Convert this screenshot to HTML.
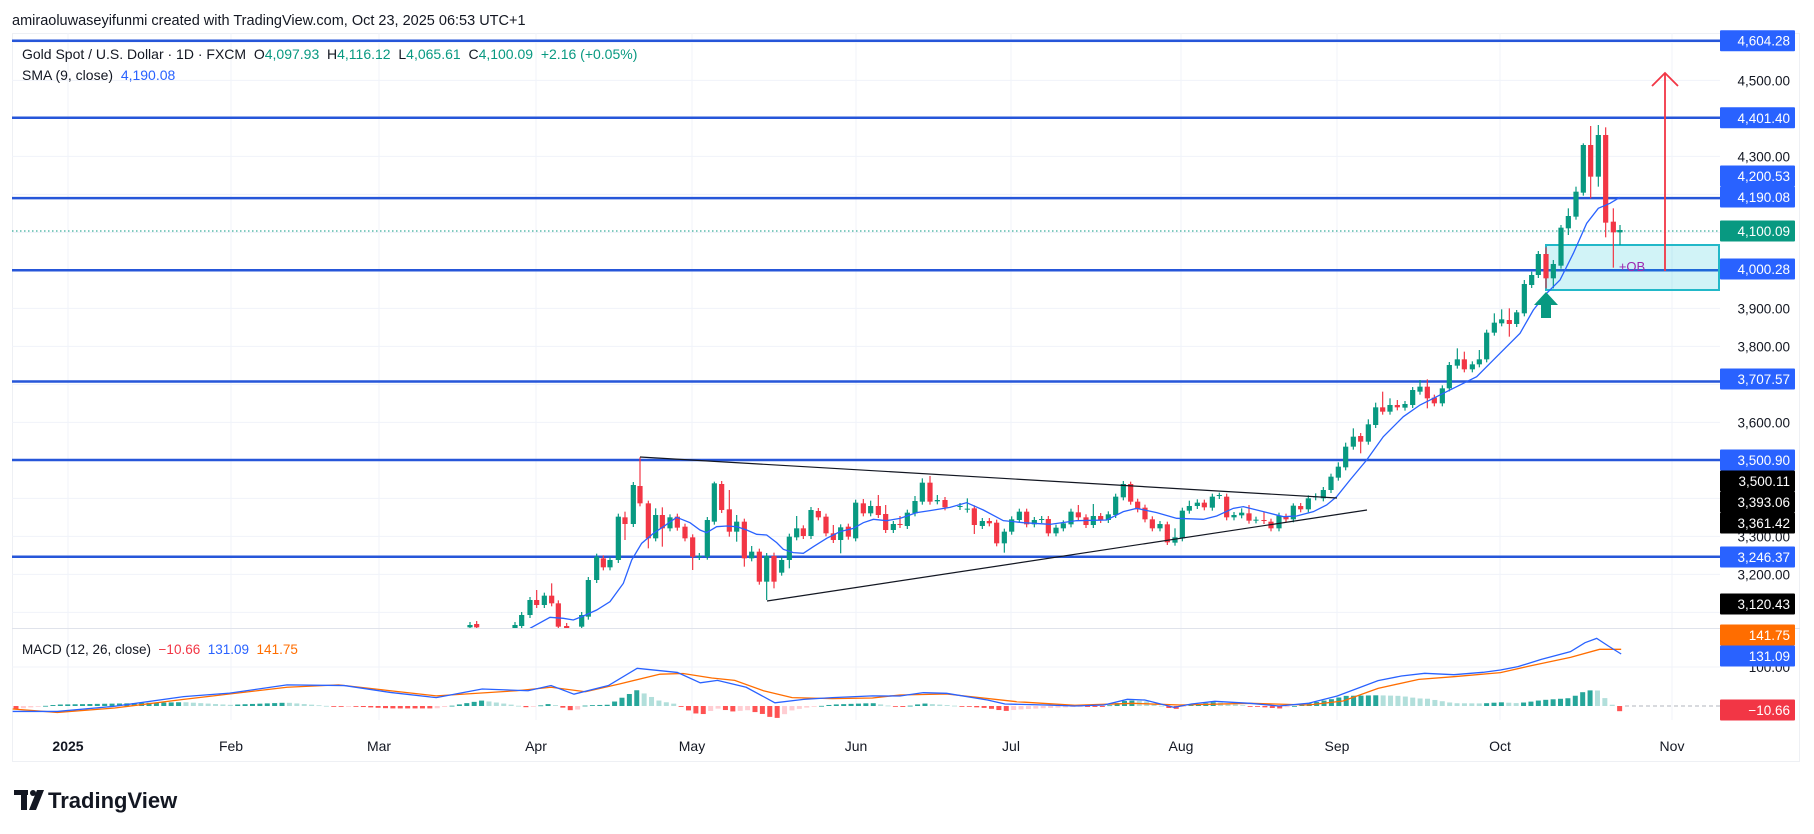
<!DOCTYPE html>
<html><head><meta charset="utf-8"><style>
html,body{margin:0;padding:0;background:#fff;}
svg{display:block;font-family:"Liberation Sans",sans-serif;}
</style></head><body>
<svg id="s" width="1814" height="834" viewBox="0 0 1814 834" xmlns="http://www.w3.org/2000/svg">
<defs>
<clipPath id="mp"><rect x="12" y="33" width="1708" height="595"/></clipPath>
<clipPath id="mc"><rect x="12" y="629" width="1708" height="92"/></clipPath>
</defs>
<rect width="1814" height="834" fill="#fff"/>
<text x="12" y="25" font-size="14.5" fill="#131722">amiraoluwaseyifunmi created with TradingView.com, Oct 23, 2025 06:53 UTC+1</text>
<rect x="12.5" y="33.5" width="1787" height="728" fill="none" stroke="#eef0f4"/>
<g id="grid"></g>
<g id="main" clip-path="url(#mp)"></g>
<g id="macd" clip-path="url(#mc)"></g>
<line x1="12" y1="628.5" x2="1800" y2="628.5" stroke="#e0e3eb"/>
<g id="ax"></g>
<text x="22" y="59" font-size="14" fill="#131722">Gold Spot / U.S. Dollar · 1D · FXCM &#160;O<tspan fill="#089981">4,097.93</tspan> &#160;H<tspan fill="#089981">4,116.12</tspan> &#160;L<tspan fill="#089981">4,065.61</tspan> &#160;C<tspan fill="#089981">4,100.09</tspan> &#160;<tspan fill="#089981">+2.16 (+0.05%)</tspan></text>
<text x="22" y="80" font-size="14" fill="#131722">SMA (9, close) &#160;<tspan fill="#2962ff">4,190.08</tspan></text>
<text x="22" y="654" font-size="13.5" fill="#131722">MACD (12, 26, close) &#160;<tspan fill="#f23645">−10.66</tspan> &#160;<tspan fill="#2962ff">131.09</tspan> &#160;<tspan fill="#ff6d00">141.75</tspan></text>
<g transform="translate(14,790)">
<rect x="0" y="0" width="14" height="5" fill="#131722"/><rect x="7" y="0" width="6" height="20" fill="#131722"/>
<circle cx="19" cy="3" r="3" fill="#131722"/><polygon points="23,0 30,0 22,20 15,20" fill="#131722"/>
<text x="34" y="18" font-size="22" font-weight="bold" fill="#131722">TradingView</text>
</g>
</svg>
<script>
const NS="http://www.w3.org/2000/svg";
function el(p,t,a,txt){const e=document.createElementNS(NS,t);for(const k in a)e.setAttribute(k,a[k]);if(txt!==undefined)e.textContent=txt;p.appendChild(e);return e;}
const G=document.getElementById('grid'),M=document.getElementById('main'),C=document.getElementById('macd'),A=document.getElementById('ax');
const py=p=>40.7+(4604.28-p)*0.38;
// grid
for(let p=3100;p<=4600;p+=100){el(G,'line',{x1:12,x2:1720,y1:py(p),y2:py(p),stroke:'#f0f3fa'});}
const months=[[68,'2025',1],[231,'Feb'],[379,'Mar'],[536,'Apr'],[692,'May'],[856,'Jun'],[1011,'Jul'],[1181,'Aug'],[1337,'Sep'],[1500,'Oct'],[1672,'Nov']];
months.forEach(m=>{el(G,'line',{x1:m[0],x2:m[0],y1:33,y2:720,stroke:'#f0f3fa'});el(A,'text',{x:m[0],y:751,'font-size':14,'text-anchor':'middle',fill:'#131722','font-weight':m[2]?'bold':'normal'},m[1]);});
el(G,'line',{x1:12,x2:1720,y1:667,y2:667,stroke:'#f0f3fa'});
// horizontal levels
[4604.28,4401.40,4190.08,4000.28,3707.57,3500.90,3246.37].forEach(p=>el(M,'line',{x1:12,x2:1720,y1:py(p),y2:py(p),stroke:'#2656d9','stroke-width':2.5}));
// dotted current
el(M,'line',{x1:12,x2:1720,y1:231,y2:231,stroke:'#089981','stroke-dasharray':'1.5 2.5'});
// OB box
el(M,'rect',{x:1546,y:245,width:173,height:45,fill:'rgba(0,188,212,0.18)',stroke:'#22b8c8','stroke-width':2});
el(M,'text',{x:1632,y:271,'font-size':13,fill:'#9c27b0','text-anchor':'middle'},'+OB');
// candles
const g='#089981',r='#f23645';
const Z=[];
function add(list,ox,oy,sx,sy){list.forEach(c=>Z.push({x:ox+c[0]/sx,t:oy+c[1]/sy,b:oy+c[2]/sy,c:c[3],h:c[4]!=null?oy+c[4]/sy:null,l:c[5]!=null?oy+c[5]/sy:null}));}
add([[60,585,592,'g'],[80,582,592,'r'],[195,585,600,'g'],[215,555,588,'g'],[240,510,555,'g'],[260,510,525,'r',480],[283,497,525,'g'],[305,497,520,'r',460],[325,520,590,'r'],[350,588,598,'r'],[395,555,590,'g'],[415,450,560,'g'],[440,380,450,'g'],[460,385,412,'r'],[480,390,412,'g'],[505,260,390,'g'],[525,262,282,'r',245,330],[550,165,282,'g'],[570,168,220,'r',82],[595,220,325,'r',212,355],[617,255,325,'g',235],[637,255,295,'r',232,350],[660,262,295,'g'],[682,260,293,'r'],[705,290,325,'r'],[728,322,380,'r',null,420],[748,378,381,'g'],[772,270,380,'g'],[793,160,275,'g',155],[815,162,240,'r'],[838,238,305,'r',180,320],[860,275,305,'g',255,335],[883,275,385,'r',null,410],[905,365,385,'g',348],[928,365,455,'r'],[950,378,455,'g',null,510],[972,378,455,'r',368,475],[995,390,428,'g'],[1018,320,390,'g',null,415],[1040,295,322,'g',258],[1060,295,318,'r'],[1083,240,318,'g'],[1105,243,262,'r'],[1128,260,310,'r'],[1150,310,330,'r',285],[1172,292,330,'g',null,370],[1195,290,320,'r'],[1217,218,325,'g'],[1240,220,250,'r',207],[1262,228,250,'g',212],[1285,228,255,'r',195],[1307,252,300,'r',225],[1330,282,300,'g'],[1350,282,285,'r',258],[1372,248,288,'g'],[1395,213,250,'g',198],[1417,158,215,'g',145],[1440,158,215,'r',138],[1462,210,214,'g',195],[1485,210,232,'r']],450,430,3,3);
add([[30,528,531,'g'],[52,536,539,'g',505],[73,535,585,'r',null,612],[97,573,588,'g'],[118,573,580,'r'],[140,578,640,'r'],[163,605,640,'g',null,668],[185,568,605,'g'],[208,545,570,'g'],[230,545,583,'r'],[253,570,583,'g'],[275,567,570,'g'],[295,567,610,'r'],[318,593,610,'g'],[340,580,595,'g'],[363,545,583,'g'],[385,547,562,'r',525],[408,562,585,'r'],[430,558,585,'g',522],[452,558,570,'r'],[475,553,570,'g'],[497,500,555,'g'],[520,462,502,'g'],[542,462,515,'r',455],[563,515,538,'r'],[585,533,568,'r'],[607,568,595,'r'],[630,582,595,'g'],[652,583,637,'r',575,645],[675,622,638,'g',595],[697,542,625,'g'],[718,528,542,'g',512],[742,518,528,'g',508],[763,518,532,'r'],[787,500,533,'g'],[808,495,498,'g',488],[830,500,562,'r'],[852,555,562,'g'],[875,548,556,'g',535],[897,550,572,'r',525],[918,569,571,'g'],[942,570,573,'r',545],[963,575,595,'r'],[987,557,595,'g'],[1008,560,568,'r'],[1030,527,568,'g',520],[1052,528,538,'r'],[1075,505,538,'g'],[1097,499,502,'g'],[1120,480,505,'g'],[1143,440,480,'g'],[1165,410,443,'g',397],[1187,350,412,'g',338],[1210,320,350,'g',295],[1232,318,335,'r',null,370],[1255,283,335,'g',268],[1277,232,285,'g',218],[1298,232,245,'r',185],[1320,225,245,'g',205],[1342,225,232,'r',210],[1365,222,233,'g']],950,330,3,3);
add([[38,1170,1215,'g'],[60,1160,1175,'g',1140],[82,1160,1195,'r',1138,1225],[103,1193,1210,'r'],[127,1165,1210,'g'],[148,1095,1165,'g'],[172,1078,1097,'g',1045],[193,1078,1108,'r',1055],[217,1093,1108,'g'],[238,1078,1093,'g',1050],[260,998,1078,'g'],[283,968,998,'g',940],[305,958,970,'g',928],[328,960,972,'r',925,1010],[350,937,972,'g',930],[373,852,940,'g',840],[395,825,855,'g',815],[415,762,825,'g'],[438,762,835,'r',742,865],[460,792,835,'g',780,865],[483,683,797,'g',675],[505,648,685,'g',625,705],[528,575,650,'g',560],[550,435,578,'g',430],[572,435,530,'r',378,595],[595,405,530,'g',375,560],[617,405,668,'r',382,712],[640,665,697,'r',625,803],[660,690,697,'g',675,735]],1400,0,3,3);
Z.forEach(c=>{const col=c.c=='g'?g:r;const h=c.h!=null?c.h:c.t-3,l=c.l!=null?c.l:c.b+3;
el(M,'line',{x1:c.x,x2:c.x,y1:h,y2:l,stroke:col,'stroke-width':1.2});
el(M,'rect',{x:c.x-2.6,y:c.t,width:5.2,height:Math.max(1,c.b-c.t),fill:col});});
// SMA
const sp=[];
function pts(list,ox,oy,sx,sy){list.forEach(p=>sp.push([ox+p[0]/sx,oy+p[1]/sy]));}
pts([[240,595],[300,562],[340,565],[370,570],[400,558],[440,540],[480,515],[520,460],[545,390],[575,340],[610,310],[640,290],[680,262],[720,278],[750,300],[770,308],[800,290],[830,288],[860,290],[890,300],[920,313],[950,315],[980,338],[1000,358],[1030,368],[1060,370],[1090,350],[1130,325],[1170,305],[1210,295],[1240,278],[1270,268],[1310,272],[1350,265],[1400,248],[1440,242],[1500,232]],450,430,3,3);
pts([[50,518],[100,540],[160,572],[220,578],[300,583],[380,572],[470,570],[520,545],[560,535],[620,548],[680,565],[760,568],[800,558],[850,535],[880,530],[940,545],[1000,560],[1040,558],[1090,545],[1130,525],[1160,500],[1200,450],[1250,390],[1300,320],[1360,260]],950,330,3,3);
pts([[60,1215],[130,1180],[230,1130],[300,1060],[360,1000],[400,930],[440,880],[480,840],[520,760],[560,670],[595,625],[630,610],[660,592]],1400,0,3,3);
el(M,'polyline',{points:sp.map(p=>p.join(',')).join(' '),fill:'none',stroke:'#2962ff','stroke-width':1.3});
// trendlines
el(M,'line',{x1:640,y1:457,x2:1337,y2:498,stroke:'#131722','stroke-width':1.2});
el(M,'line',{x1:767,y1:601,x2:1367,y2:510,stroke:'#131722','stroke-width':1.2});
// green arrow
el(M,'polygon',{points:'1546,292 1558,305 1551,305 1551,318 1541,318 1541,305 1534,305',fill:'#089981'});
// red arrow
el(M,'line',{x1:1665,y1:271,x2:1665,y2:73,stroke:'#f23645','stroke-width':1.8});
el(M,'polyline',{points:'1652,86 1665,73 1678,86',fill:'none',stroke:'#f23645','stroke-width':1.8});
// axis labels
[[4500,'4,500.00'],[4300,'4,300.00'],[3900,'3,900.00'],[3800,'3,800.00'],[3600,'3,600.00'],[3300,'3,300.00'],[3200,'3,200.00']].forEach(a=>el(A,'text',{x:1790,y:py(a[0])+5,'font-size':13.5,'text-anchor':'end',fill:'#131722'},a[1]));
el(A,'text',{x:1790,y:672,'font-size':13.5,'text-anchor':'end',fill:'#131722'},'100.00');
function lab(y,t,bg){el(A,'rect',{x:1720,y:y-10.5,width:75,height:21,fill:bg,rx:1});el(A,'text',{x:1790,y:y+5,'font-size':13.5,'text-anchor':'end',fill:'#fff'},t);}
lab(40.7,'4,604.28','#2962ff');lab(117.8,'4,401.40','#2962ff');lab(176,'4,200.53','#2962ff');lab(197,'4,190.08','#2962ff');
lab(231,'4,100.09','#089981');lab(269,'4,000.28','#2962ff');lab(379,'3,707.57','#2962ff');lab(460,'3,500.90','#2962ff');
lab(481,'3,500.11','#000');lab(502,'3,393.06','#000');lab(523,'3,361.42','#000');lab(557,'3,246.37','#2962ff');lab(604,'3,120.43','#000');
// MACD
const B=[],O=[];
function mp(dst,list,ox,oy,sx,sy){list.forEach(p=>dst.push([ox+p[0]*sx,oy+p[1]*sy]));}
mp(B,[[22,265],[100,265],[200,250],[320,222],[400,212],[500,188],[600,190],[680,210],[760,225],[840,200],[920,205],[960,190],[1000,215],[1060,190],[1110,140],[1180,152],[1220,182],[1250,175],[1300,195],[1350,240],[1400,230],[1450,225],[1520,220]],0,620,0.574,0.345);
mp(B,[[0,228],[40,218],[80,220],[150,240],[180,252],[250,255],[300,258],[350,255],[390,238],[420,240],[470,262],[500,252],[540,244],[600,250],[650,258],[700,250],[750,228],[820,182],[860,168],[900,160],[950,164],[1000,157],[1030,150],[1060,140],[1100,118],[1150,95],[1175,68],[1195,55],[1215,78],[1237,102]],900,620,0.583,1/3);
mp(O,[[22,258],[100,268],[200,255],[320,230],[500,195],[590,188],[680,205],[760,220],[900,205],[960,195],[1020,208],[1080,185],[1150,157],[1190,155],[1240,168],[1280,175],[1330,205],[1380,225],[1450,228],[1520,226]],0,620,0.574,0.345);
mp(O,[[0,225],[80,222],[200,245],[300,256],[400,250],[480,255],[600,250],[700,255],[760,243],[820,205],[890,178],[950,170],[1030,158],[1080,138],[1150,112],[1200,88],[1237,88]],900,620,0.583,1/3);
function interp(L,x){for(let i=1;i<L.length;i++){if(L[i][0]>=x){const a=L[i-1],b=L[i];return a[1]+(b[1]-a[1])*(x-a[0])/(b[0]-a[0]);}}return L[L.length-1][1];}
const Z0=706;let prev=0;
for(let x=16;x<=1621;x+=7.39){const h=(interp(O,x)-interp(B,x))*1.4;let col;
if(h>=0)col=h>=prev?'#26a69a':'#b2dfdb';else col=h<=prev?'#ff5252':'#ffcdd2';prev=h;
el(C,'rect',{x:x-2.5,y:h>=0?Z0-h:Z0,width:5,height:Math.max(0.8,Math.abs(h)),fill:col});}
el(C,'line',{x1:1625,x2:1720,y1:Z0,y2:Z0,stroke:'#b2b5be','stroke-dasharray':'4 3'});
el(C,'polyline',{points:O.map(p=>p.join(',')).join(' '),fill:'none',stroke:'#ff6d00','stroke-width':1.3});
el(C,'polyline',{points:B.map(p=>p.join(',')).join(' '),fill:'none',stroke:'#2962ff','stroke-width':1.3});
lab(635,'141.75','#ff6d00');lab(656,'131.09','#2962ff');lab(710,'−10.66','#f23645');
</script>
</body></html>
